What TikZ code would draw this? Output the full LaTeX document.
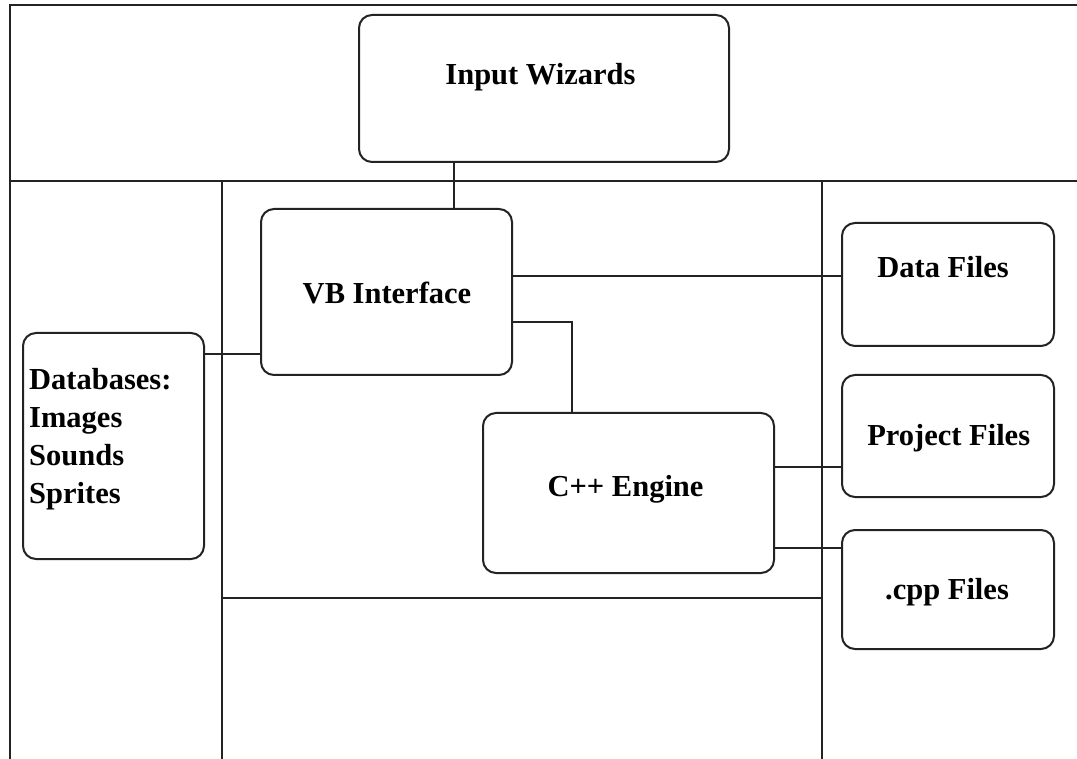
\documentclass[tikz,border=0pt]{standalone}
\usepackage{fontspec}
\setmainfont{Liberation Serif}
\definecolor{ink}{RGB}{35,35,35}
\tikzset{
  box/.style={draw=ink, rounded corners=13pt, line width=2pt, inner sep=0pt},
  lbl/.style={font=\fontsize{30.5}{37.7}\selectfont\bfseries, inner sep=0pt, anchor=base, text=black},
  wire/.style={draw=ink, line width=2pt},
}
\begin{document}
\begin{tikzpicture}[x=1pt,y=-1pt]
\useasboundingbox (0,0) rectangle (1077,759);
\fill[white] (0,0) rectangle (1077,759);
% frame lines
\draw[wire] (1077,5) -- (10,5) -- (10,759);
\draw[wire] (10,181) -- (1077,181);
\draw[wire] (222,181) -- (222,759);
\draw[wire] (822,181) -- (822,759);
\draw[wire] (222,598) -- (822,598);
% boxes
\node[box, minimum width=370pt, minimum height=147pt] (iw) at (544,88.5) {};
\node[box, minimum width=251pt, minimum height=166pt] (vb) at (386.5,292) {};
\node[box, minimum width=181pt, minimum height=226pt] (db) at (113.5,446) {};
\node[box, minimum width=291pt, minimum height=160pt] (ce) at (628.5,493) {};
\node[box, minimum width=212pt, minimum height=123pt] (df) at (948,284.5) {};
\node[box, minimum width=212pt, minimum height=122pt] (pf) at (948,436) {};
\node[box, minimum width=212pt, minimum height=119pt] (cp) at (948,589.5) {};
% labels
\node[lbl] (iwt) at (540.5,85) {Input Wizards};
\node[lbl] (vbt) at (387,304) {VB Interface};
\node[lbl] (cet) at (625.5,496) {C++ Engine};
\node[lbl] (dft) at (943,278) {Data Files};
\node[lbl] (pft) at (948.7,446) {Project Files};
\node[lbl] (cpt) at (947,599) {.cpp Files};
\node[lbl, anchor=base west, align=left] (dbt) at (29,503) {Databases:\\Images\\Sounds\\Sprites};
% connectors
\coordinate (xIW) at (454,0);
\draw[wire] (iw.south -| xIW) -- (vb.north -| xIW);
\coordinate (yDF) at (0,276);
\draw[wire] (vb.east |- yDF) -- (df.west |- yDF);
\coordinate (yDB) at (0,354);
\draw[wire] (db.east |- yDB) -- (vb.west |- yDB);
\coordinate (yVC) at (0,322);
\coordinate (xVC) at (572,0);
\draw[wire] (vb.east |- yVC) -| (ce.north -| xVC);
\coordinate (yPF) at (0,467);
\draw[wire] (ce.east |- yPF) -- (pf.west |- yPF);
\coordinate (yCP) at (0,548);
\draw[wire] (ce.east |- yCP) -- (cp.west |- yCP);
\end{tikzpicture}
\end{document}
